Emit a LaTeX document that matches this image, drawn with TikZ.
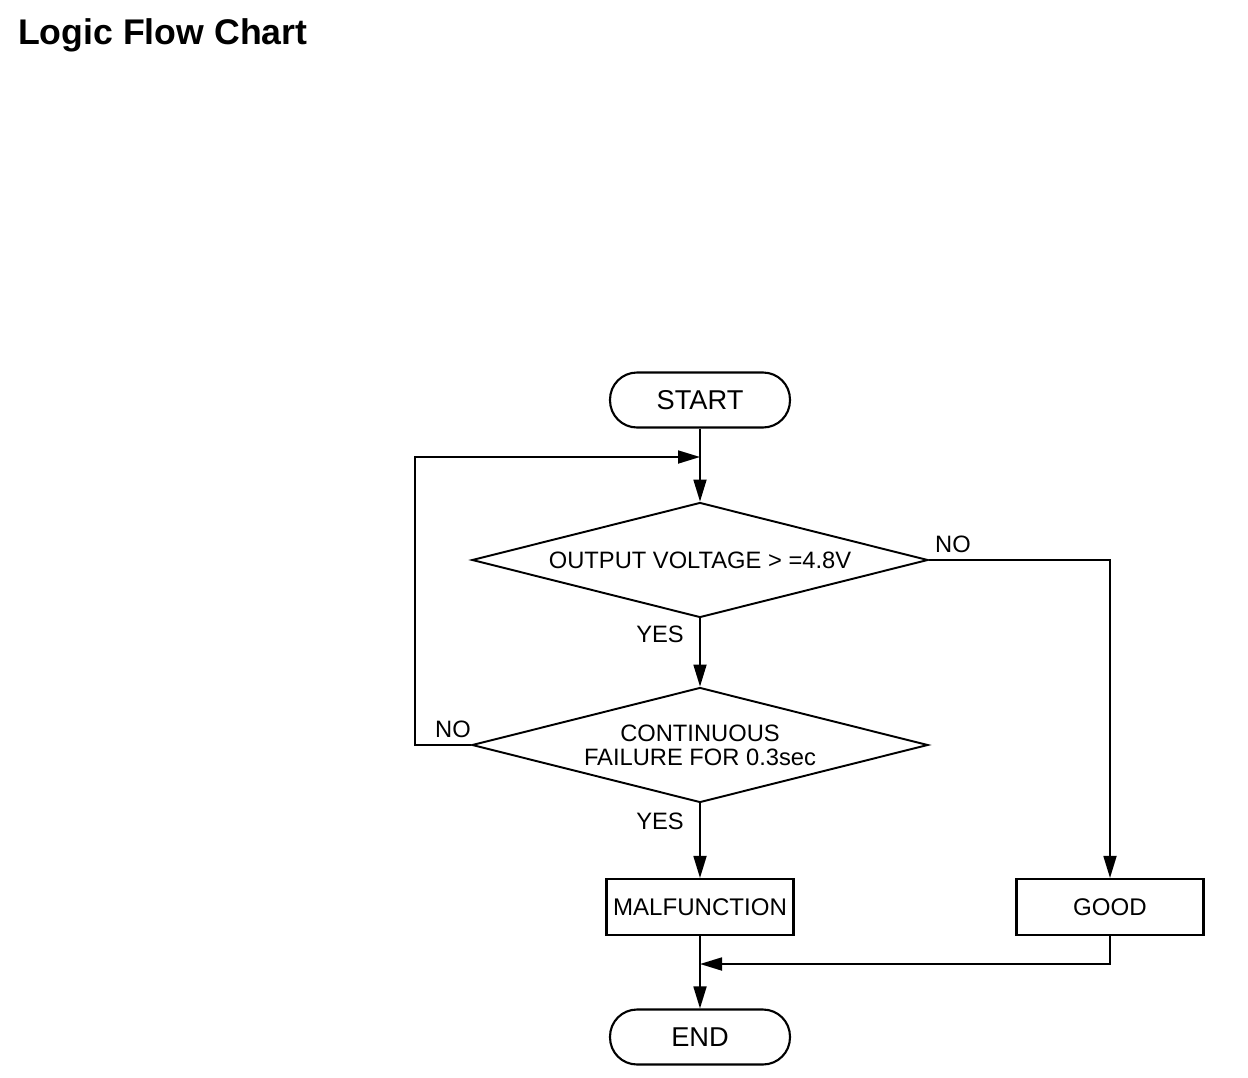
\documentclass[tikz,border=0pt]{standalone}
\usepackage{fontspec}
\setmainfont{Liberation Sans}
\usetikzlibrary{arrows.meta,shapes.geometric}

\begin{document}
\begin{tikzpicture}[x=0.02cm,y=-0.02cm,
    flow/.style={line width=1pt,-{Triangle[length=0.44cm,width=0.26cm]}},
    term/.style={draw,line width=1.2pt,rectangle,rounded corners=0.54cm,minimum width=3.6cm,minimum height=1.1cm,font=\fontsize{15.5}{18}\selectfont},
    box/.style={draw,line width=1.2pt,rectangle,minimum width=3.74cm,minimum height=1.12cm,inner sep=0pt,font=\fontsize{13.7}{16}\selectfont},
    test/.style={draw,line width=1.1pt,diamond,shape aspect=3.97,inner sep=0pt,minimum width=9.12cm,minimum height=2.3cm,align=center,font=\fontsize{13.5}{13.6}\selectfont},
    lab/.style={font=\fontsize{13.5}{16}\selectfont}]
    \useasboundingbox (0,0) rectangle (1248,1078);

    % Titel
    \node[anchor=base west,font=\bfseries\fontsize{20.3}{24}\selectfont] (title) at (12,45) {Logic Flow Chart};

    % Knoten
    \node[term] (start) at (700,400) {START};
    \node[test] (volt) at (700,560) {OUTPUT VOLTAGE > =4.8V};
    \node[test] (cont) at (700,745) {CONTINUOUS\\FAILURE FOR 0.3sec};
    \node[box] (malf) at (700,907) {MALFUNCTION};
    \node[box] (good) at (1110,907) {GOOD};
    \node[term] (finish) at (700,1037) {END};

    % Beschriftung
    \node[lab] (yes1) at (660,634) {YES};
    \node[lab] (yes2) at (660,821) {YES};
    \node[lab] (no1) at (953,544) {NO};
    \node[lab] (no2) at (453,729) {NO};

    % Hilfspunkte
    \coordinate (loop) at (700,457);
    \coordinate (back) at (415,745);
    \coordinate (join) at (700,964);

    % Pfeile
    \draw[flow] (start) -- (volt);
    \draw[flow] (volt) -- (cont);
    \draw[flow] (cont) -- (malf);
    \draw[flow] (malf) -- (finish);
    \draw[flow] (cont.west) -- (back) |- (loop);
    \draw[flow] (volt.east) -| (good);
    \draw[flow] (good) |- (join);
\end{tikzpicture}
\end{document}
